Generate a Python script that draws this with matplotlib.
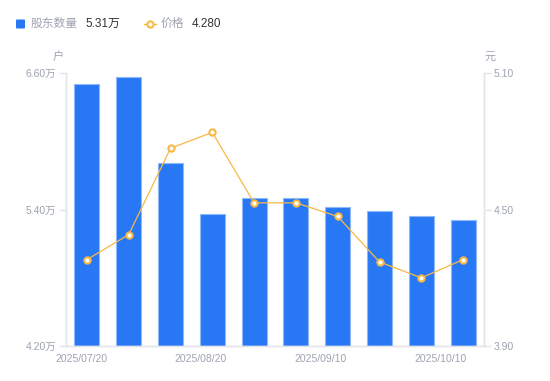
#!/usr/bin/env python3
"""Shareholder count vs price chart (bars + line, twin y axes)."""

import matplotlib
matplotlib.use("Agg")
import matplotlib.pyplot as plt
import numpy as np

plt.rcParams["font.family"] = ["Liberation Sans", "Noto Sans CJK SC", "DejaVu Sans"]

# ---------------------------------------------------------------------------
# Data
# ---------------------------------------------------------------------------

holders = [6.51, 6.57, 5.81, 5.36, 5.50, 5.50, 5.42, 5.39, 5.34, 5.31]   # 万户
prices  = [4.28, 4.39, 4.77, 4.84, 4.53, 4.53, 4.47, 4.27, 4.20, 4.28]   # 元
date_labels = ["2025/07/20", "2025/08/20", "2025/09/10", "2025/10/10"]
date_ticks  = [-0.12, 2.73, 5.58, 8.45]

left_ticks  = [4.20, 5.40, 6.60]
right_ticks = [3.90, 4.50, 5.10]

BLUE = "#2878f5"
BLUE_EDGE = "#8fb8fa"
ORANGE = "#f8b844"
GREY = "#9ea3b0"
AXIS = "#e3e5ea"

# ---------------------------------------------------------------------------
# Plot
# ---------------------------------------------------------------------------

fig = plt.figure(figsize=(5.5, 3.81), dpi=100)
ax = fig.add_axes([66 / 550, 35 / 381, 418 / 550, 272.7 / 381])
ax2 = ax.twinx()

x = np.arange(len(holders))
ax.bar(x, holders, width=0.6, color=BLUE, edgecolor=BLUE_EDGE, linewidth=0.8,
       zorder=2)
ax.set_ylim(left_ticks[0], left_ticks[-1])
ax.set_xlim(-0.5, len(holders) - 0.5)

ax2.plot(x, prices, color=ORANGE, linewidth=0.9, marker="o", markersize=4.5,
         markerfacecolor="white", markeredgecolor=ORANGE, markeredgewidth=1.5,
         zorder=3)
ax2.set_ylim(right_ticks[0], right_ticks[-1])

ax.set_yticks(left_ticks)
ax.set_yticklabels([f"{v:.2f}万" for v in left_ticks])
ax2.set_yticks(right_ticks)
ax2.set_yticklabels([f"{v:.2f}" for v in right_ticks])
ax.set_xticks(date_ticks)
ax.set_xticklabels(date_labels)

for a in (ax, ax2):
    a.spines["top"].set_visible(False)
    for side in ("left", "right", "bottom"):
        a.spines[side].set_color(AXIS)
        a.spines[side].set_linewidth(1.0)
    a.tick_params(axis="y", colors=AXIS, labelcolor=GREY, labelsize=7.5,
                  length=5, width=1, pad=2)
ax.tick_params(axis="x", length=0, labelcolor=GREY, labelsize=7.5, pad=6)

fig.text(58 / 550, 1 - 57 / 381, "户", color=GREY, fontsize=8,
         ha="center", va="center")
fig.text(490 / 550, 1 - 57 / 381, "元", color=GREY, fontsize=8,
         ha="center", va="center")

# legend drawn by hand in figure coordinates
ly = 1 - 24 / 381
fig.patches.append(matplotlib.patches.FancyBboxPatch(
    (16 / 550, ly - 4.5 / 381), 9 / 550, 9 / 381,
    boxstyle="round,pad=0,rounding_size=0.002", transform=fig.transFigure,
    facecolor=BLUE, edgecolor="none"))
fig.text(31 / 550, ly, "股东数量", color=GREY, fontsize=8.5, va="center")
fig.text(85 / 550, ly, f"{holders[-1]:.2f}万", color="#333333", fontsize=8.5,
         va="center")
fig.lines.append(matplotlib.lines.Line2D(
    [144 / 550, 156 / 550], [ly, ly], transform=fig.transFigure,
    color=ORANGE, linewidth=1))
fig.lines.append(matplotlib.lines.Line2D(
    [150 / 550], [ly], transform=fig.transFigure, color=ORANGE,
    marker="o", markersize=4.5, markerfacecolor="white",
    markeredgecolor=ORANGE, markeredgewidth=1.5, linestyle="none"))
fig.text(161 / 550, ly, "价格", color=GREY, fontsize=8.5, va="center")
fig.text(192 / 550, ly, f"{prices[-1]:.3f}", color="#333333", fontsize=8.5,
         va="center")

fig.savefig("out.png", dpi=100)
plt.close(fig)
